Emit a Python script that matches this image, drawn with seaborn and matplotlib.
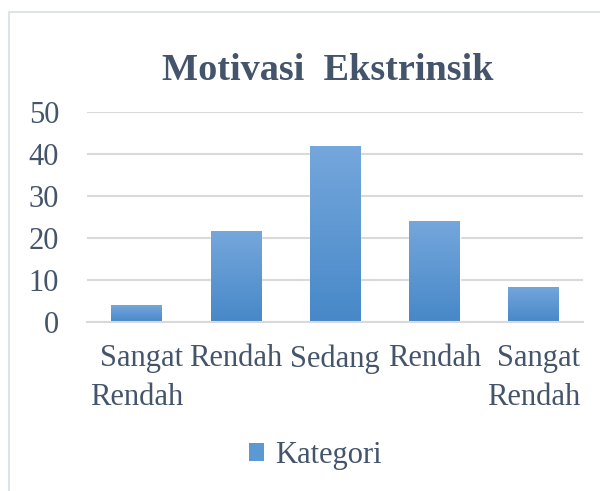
import numpy as np
import pandas as pd
import matplotlib.pyplot as plt
import seaborn as sns
from matplotlib.lines import Line2D

# Data
categories = ["Sangat\nRendah", "Rendah", "Sedang", "Rendah ", "Sangat\nRendah "]
values = [4.0, 21.6, 41.9, 24.1, 8.4]
legend_label = "Kategori"
title = "Motivasi  Ekstrinsik"

TEXT = "#44546A"
GRID = "#D9D9D9"
TOP_BLUE = "#75A7DC"
BOTTOM_BLUE = "#4788C8"

sns.set_theme(style="white")
plt.rcParams["font.family"] = ["Liberation Serif", "DejaVu Serif"]

df = pd.DataFrame({"cat": categories, "val": values})

fig = plt.figure(figsize=(6, 4.91), dpi=100)
ax = fig.add_axes([0.145, 0.344, 0.827, 0.428])

sns.barplot(data=df, x="cat", y="val", color=BOTTOM_BLUE, width=0.51,
            ax=ax, saturation=1)

# vertical gradient fill on every bar
grad = np.linspace(0, 1, 256).reshape(-1, 1)
cmap = sns.blend_palette([BOTTOM_BLUE, TOP_BLUE], as_cmap=True)
for p in list(ax.patches):
    x0, y0 = p.get_x(), p.get_y()
    w, h = p.get_width(), p.get_height()
    im = ax.imshow(grad, extent=[x0, x0 + w, y0, y0 + h], origin="lower",
                   cmap=cmap, aspect="auto", zorder=p.get_zorder() + 0.1)
    im.set_clip_path(p)

ax.set_xlim(-0.5, len(categories) - 0.5)
ax.set_ylim(0, 50)
ax.set_yticks(range(0, 51, 10))
ax.yaxis.grid(True, color=GRID, linewidth=1.5)
ax.set_axisbelow(True)
for s in ["top", "right", "left"]:
    ax.spines[s].set_visible(False)
ax.spines["bottom"].set_color(GRID)
ax.spines["bottom"].set_linewidth(1.5)

ax.set_xlabel("")
ax.set_ylabel("")
ax.tick_params(axis="y", length=0, pad=20, labelsize=22, labelcolor=TEXT)
ax.tick_params(axis="x", length=0, pad=16, labelsize=22, labelcolor=TEXT)
ax.set_xticks(range(len(categories)))
ax.set_xticklabels([c.rstrip() for c in categories])
for t in ax.get_xticklabels():
    t.set_multialignment("right")
    t.set_linespacing(1.45)

fig.text(0.547, 0.857, title, ha="center", va="center", fontsize=27.5,
         fontweight="bold", color=TEXT)

handle = plt.Rectangle((0, 0), 1, 1, facecolor="#5C98D4", edgecolor="none")
fig.legend([handle], [legend_label], loc="center", bbox_to_anchor=(0.525, 0.073),
           frameon=False, fontsize=22, labelcolor=TEXT, handlelength=0.5,
           handleheight=0.5, handletextpad=0.35)

# light frame on left and top edge
fig.add_artist(Line2D([9 / 600, 9 / 600], [0, 1 - 12 / 491], color="#DCE3EA", lw=1.5,
                      transform=fig.transFigure))
fig.add_artist(Line2D([9 / 600, 1], [1 - 12 / 491, 1 - 12 / 491], color="#DCE3EA", lw=1.5,
                      transform=fig.transFigure))

fig.savefig("out.png", dpi=100, facecolor="white")
